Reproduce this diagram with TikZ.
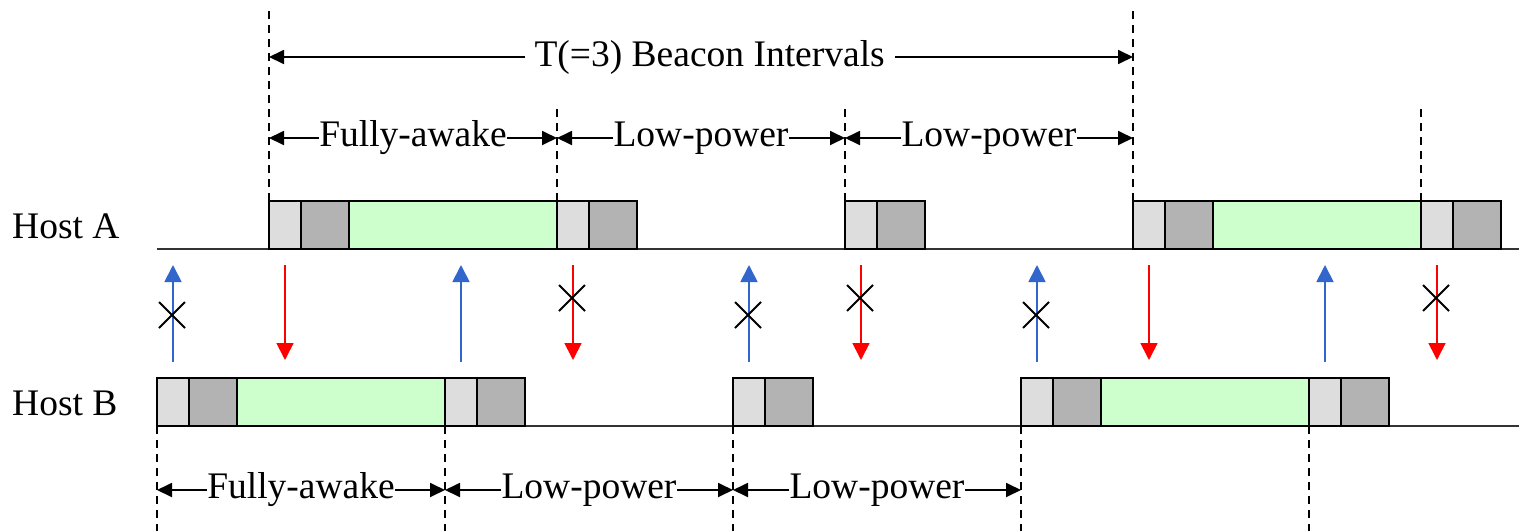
\documentclass[tikz,border=0pt]{standalone}
\usepackage{fontspec}
\setmainfont{Liberation Serif}
\usetikzlibrary{arrows.meta, positioning, calc}
\definecolor{LightGray}{HTML}{DDDDDD}
\definecolor{DarkGray}{HTML}{B3B3B3}
\definecolor{PaleGreen}{HTML}{CCFFCC}
\definecolor{MsgBlue}{HTML}{3366CC}
\definecolor{MsgRed}{HTML}{FF0000}

\begin{document}
\begin{tikzpicture}[x=1pt, y=-1pt,
  font=\fontsize{37.5}{42}\selectfont,
  blk/.style={draw=black, line width=2.2pt, anchor=south west,
              inner sep=0pt, outer sep=0pt, minimum height=48pt},
  lgb/.style={blk, fill=LightGray, minimum width=32pt},
  dgb/.style={blk, fill=DarkGray, minimum width=48pt},
  awb/.style={blk, fill=PaleGreen, minimum width=208pt},
  hostline/.style={line width=2pt, draw=black!80},
  vdash/.style={line width=1.8pt, dash pattern=on 8pt off 6pt},
  spanarr/.style={{Triangle[length=15pt,width=14pt]}-{Triangle[length=15pt,width=14pt]},
                  line width=1.8pt},
  lbl/.style={fill=white, inner sep=0.5pt},
  bcnup/.style={-{Triangle[length=17pt,width=17pt]}, line width=1.8pt, draw=MsgBlue, fill=MsgBlue},
  bcndn/.style={-{Triangle[length=17pt,width=17pt]}, line width=1.8pt, draw=MsgRed, fill=MsgRed},
  xmark/.style={line width=1.8pt}
]
  \useasboundingbox (0,0) rectangle (1519,531);

  % beacon instants of both hosts
  \foreach \i in {0,...,4} {
    \coordinate (A\i) at (269+288*\i,249);
    \coordinate (B\i) at (157+288*\i,426);
  }

  % host time lines
  \node[anchor=base west, inner sep=0pt] (hA) at (12,238) {Host A};
  \node[anchor=base west, inner sep=0pt] (hB) at (12,415) {Host B};
  \draw[hostline] (157,249) -- (1519,249);
  \draw[hostline] (157,426) -- (1519,426);

  % beacon windows
  \foreach \i in {0,...,4} {
    \node[lgb] (la\i) at (A\i) {};
    \node[dgb] (da\i) at ($(A\i)+(32,0)$) {};
    \node[lgb] (lb\i) at (B\i) {};
    \node[dgb] (db\i) at ($(B\i)+(32,0)$) {};
  }
  % fully-awake periods
  \node[awb] (wa0) at ($(A0)+(80,0)$) {};
  \node[awb] (wa3) at ($(A3)+(80,0)$) {};
  \node[awb] (wb0) at ($(B0)+(80,0)$) {};
  \node[awb] (wb3) at ($(B3)+(80,0)$) {};

  % dashed markers
  \draw[vdash] ($(A0)+(0,-48)$) -- ($(A0)+(0,-241)$);
  \draw[vdash] ($(A3)+(0,-48)$) -- ($(A3)+(0,-241)$);
  \foreach \i in {1,2,4}
    \draw[vdash] ($(A\i)+(0,-48)$) -- ($(A\i)+(0,-144)$);
  \foreach \i in {0,...,4}
    \draw[vdash] (B\i) -- ($(B\i)+(0,105)$);

  % interval labels
  \draw[spanarr] ($(A0)+(0,-192)$) -- ($(A3)+(0,-192)$)
    node[lbl, pos=0.51, inner xsep=10pt] (tb) {T(=3) Beacon Intervals};
  \draw[spanarr] ($(A0)+(0,-111)$) -- ($(A1)+(0,-111)$) node[lbl, midway] (fa) {Fully-awake};
  \draw[spanarr] ($(A1)+(0,-111)$) -- ($(A2)+(0,-111)$) node[lbl, midway] (la) {Low-power};
  \draw[spanarr] ($(A2)+(0,-111)$) -- ($(A3)+(0,-111)$) node[lbl, midway] (lc) {Low-power};
  \draw[spanarr] ($(B0)+(0,64)$) -- ($(B1)+(0,64)$) node[lbl, midway] (fb) {Fully-awake};
  \draw[spanarr] ($(B1)+(0,64)$) -- ($(B2)+(0,64)$) node[lbl, midway] (lb) {Low-power};
  \draw[spanarr] ($(B2)+(0,64)$) -- ($(B3)+(0,64)$) node[lbl, midway] (ld) {Low-power};

  % beacons sent by B (up) and by A (down)
  \foreach \i in {0,...,4} {
    \coordinate (su\i) at ($(B\i)+(16,-64)$);
    \coordinate (eu\i) at ($(B\i)+(16,-161)$);
    \draw[bcnup] (su\i) -- (eu\i);
    \coordinate (sd\i) at ($(A\i)+(16,16)$);
    \coordinate (ed\i) at ($(A\i)+(16,111)$);
    \draw[bcndn] (sd\i) -- (ed\i);
  }

  % lost beacons
  \foreach \i in {0,2,3}
    \draw[xmark] ($(B\i)+(15,-111)$) +(-13,-13) -- +(13,13) +(-13,13) -- +(13,-13);
  \foreach \i in {1,2,4}
    \draw[xmark] ($(A\i)+(15,49)$) +(-13,-13) -- +(13,13) +(-13,13) -- +(13,-13);
\end{tikzpicture}
\end{document}
